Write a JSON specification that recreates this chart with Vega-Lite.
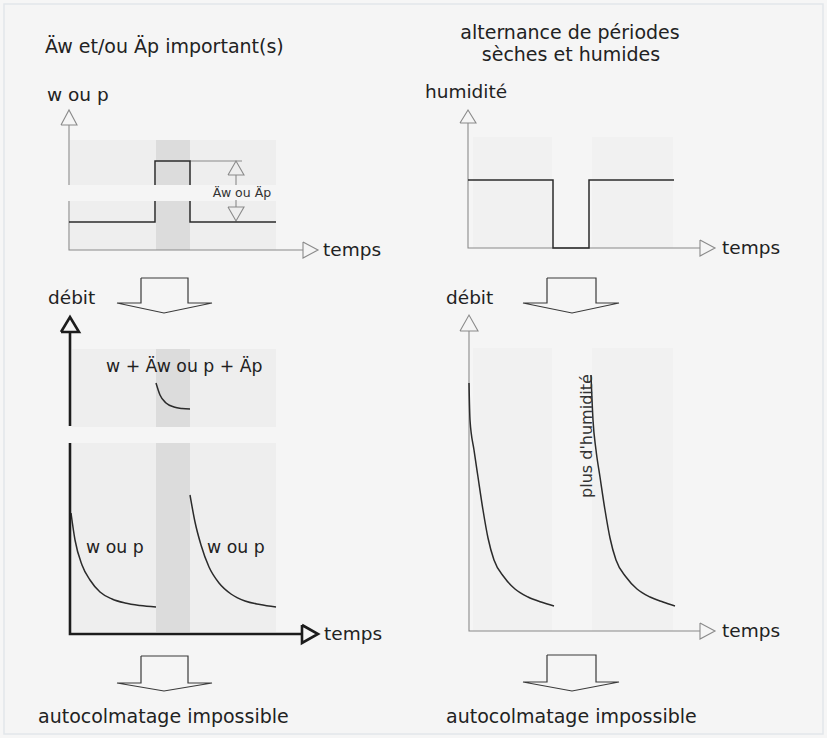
{
  "$schema": "https://vega.github.io/schema/vega-lite/v6.json",
  "width": 827,
  "height": 738,
  "padding": 0,
  "autosize": "none",
  "background": "#f6f6f6",
  "config": {"view": {"stroke": null}},
  "encoding": {
    "x": {"field": "x", "type": "quantitative", "scale": {"domain": [0, 827], "nice": false, "zero": false}, "axis": null},
    "y": {"field": "y", "type": "quantitative", "scale": {"domain": [0, 738], "nice": false, "zero": false, "reverse": true}, "axis": null}
  },
  "layer": [
    {
      "data": {"values": [{"x": 4, "x2": 823, "y": 4, "y2": 734}]},
      "mark": {"type": "rect", "fill": "#f5f5f5", "stroke": "#e2e6ea", "strokeWidth": 1.5},
      "encoding": {"x2": {"field": "x2"}, "y2": {"field": "y2"}}
    },
    {
      "data": {"values": [
        {"k": "box", "x": 70, "x2": 276, "y": 140, "y2": 185},
        {"k": "box", "x": 70, "x2": 276, "y": 201, "y2": 250},
        {"k": "box", "x": 72, "x2": 276, "y": 349, "y2": 427},
        {"k": "box", "x": 72, "x2": 276, "y": 443, "y2": 632},
        {"k": "rbox", "x": 473, "x2": 552, "y": 137, "y2": 248},
        {"k": "rbox", "x": 592, "x2": 673, "y": 137, "y2": 248},
        {"k": "rbox", "x": 473, "x2": 552, "y": 348, "y2": 631},
        {"k": "rbox", "x": 592, "x2": 673, "y": 348, "y2": 631},
        {"k": "band", "x": 156, "x2": 190, "y": 140, "y2": 185},
        {"k": "band", "x": 156, "x2": 190, "y": 201, "y2": 250},
        {"k": "band", "x": 156, "x2": 190, "y": 349, "y2": 427},
        {"k": "band", "x": 156, "x2": 190, "y": 443, "y2": 632}
      ]},
      "mark": {"type": "rect"},
      "encoding": {
        "x2": {"field": "x2"}, "y2": {"field": "y2"},
        "color": {"field": "k", "type": "nominal", "legend": null,
          "scale": {"domain": ["box", "rbox", "band"], "range": ["#eeeeee", "#f1f1f1", "#dcdcdc"]}}
      }
    },
    {
      "data": {"values": [
        {"g": "a", "o": 1, "x": 69, "y": 125}, {"g": "a", "o": 2, "x": 69, "y": 185},
        {"g": "b", "o": 1, "x": 69, "y": 201}, {"g": "b", "o": 2, "x": 69, "y": 250}, {"g": "b", "o": 3, "x": 303, "y": 250},
        {"g": "c", "o": 1, "x": 190, "y": 161}, {"g": "c", "o": 2, "x": 242, "y": 161},
        {"g": "d", "o": 1, "x": 236, "y": 175}, {"g": "d", "o": 2, "x": 236, "y": 185},
        {"g": "e", "o": 1, "x": 236, "y": 200}, {"g": "e", "o": 2, "x": 236, "y": 207},
        {"g": "f", "o": 1, "x": 61, "y": 125}, {"g": "f", "o": 2, "x": 69, "y": 110}, {"g": "f", "o": 3, "x": 77, "y": 125}, {"g": "f", "o": 4, "x": 61, "y": 125},
        {"g": "g", "o": 1, "x": 303, "y": 242}, {"g": "g", "o": 2, "x": 318, "y": 250}, {"g": "g", "o": 3, "x": 303, "y": 258}, {"g": "g", "o": 4, "x": 303, "y": 242},
        {"g": "h", "o": 1, "x": 228, "y": 175}, {"g": "h", "o": 2, "x": 236, "y": 161}, {"g": "h", "o": 3, "x": 244, "y": 175}, {"g": "h", "o": 4, "x": 228, "y": 175},
        {"g": "i", "o": 1, "x": 228, "y": 207}, {"g": "i", "o": 2, "x": 236, "y": 221}, {"g": "i", "o": 3, "x": 244, "y": 207}, {"g": "i", "o": 4, "x": 228, "y": 207},
        {"g": "j", "o": 1, "x": 468, "y": 123}, {"g": "j", "o": 2, "x": 468, "y": 248}, {"g": "j", "o": 3, "x": 700, "y": 248},
        {"g": "k", "o": 1, "x": 460, "y": 123}, {"g": "k", "o": 2, "x": 468, "y": 110}, {"g": "k", "o": 3, "x": 476, "y": 123}, {"g": "k", "o": 4, "x": 460, "y": 123},
        {"g": "l", "o": 1, "x": 700, "y": 240}, {"g": "l", "o": 2, "x": 715, "y": 248}, {"g": "l", "o": 3, "x": 700, "y": 256}, {"g": "l", "o": 4, "x": 700, "y": 240},
        {"g": "m", "o": 1, "x": 469, "y": 331}, {"g": "m", "o": 2, "x": 469, "y": 631}, {"g": "m", "o": 3, "x": 700, "y": 631},
        {"g": "n", "o": 1, "x": 460, "y": 331}, {"g": "n", "o": 2, "x": 469, "y": 315}, {"g": "n", "o": 3, "x": 478, "y": 331}, {"g": "n", "o": 4, "x": 460, "y": 331},
        {"g": "p", "o": 1, "x": 700, "y": 623}, {"g": "p", "o": 2, "x": 715, "y": 631}, {"g": "p", "o": 3, "x": 700, "y": 639}, {"g": "p", "o": 4, "x": 700, "y": 623}
      ]},
      "mark": {"type": "line", "stroke": "#8a8a8a", "strokeWidth": 1.1, "interpolate": "linear"},
      "encoding": {"detail": {"field": "g"}, "order": {"field": "o", "type": "quantitative"}}
    },
    {
      "data": {"values": [
        {"g": "s1", "o": 1, "x": 69, "y": 222}, {"g": "s1", "o": 2, "x": 155, "y": 222}, {"g": "s1", "o": 3, "x": 155, "y": 201},
        {"g": "s2", "o": 1, "x": 155, "y": 185}, {"g": "s2", "o": 2, "x": 155, "y": 161}, {"g": "s2", "o": 3, "x": 190, "y": 161}, {"g": "s2", "o": 4, "x": 190, "y": 185},
        {"g": "s3", "o": 1, "x": 190, "y": 201}, {"g": "s3", "o": 2, "x": 190, "y": 222}, {"g": "s3", "o": 3, "x": 276, "y": 222},
        {"g": "s4", "o": 1, "x": 468, "y": 180}, {"g": "s4", "o": 2, "x": 553, "y": 180}, {"g": "s4", "o": 3, "x": 553, "y": 248}, {"g": "s4", "o": 4, "x": 589, "y": 248}, {"g": "s4", "o": 5, "x": 589, "y": 180}, {"g": "s4", "o": 6, "x": 674, "y": 180},
        {"g": "c0", "o": 1, "x": 156, "y": 383}, {"g": "c0", "o": 2, "x": 160, "y": 395}, {"g": "c0", "o": 3, "x": 166, "y": 403}, {"g": "c0", "o": 4, "x": 174, "y": 407}, {"g": "c0", "o": 5, "x": 182, "y": 408.5}, {"g": "c0", "o": 6, "x": 190, "y": 409},
        {"g": "c1", "o": 1, "x": 71, "y": 513}, {"g": "c1", "o": 2, "x": 75, "y": 540}, {"g": "c1", "o": 3, "x": 82, "y": 565}, {"g": "c1", "o": 4, "x": 90, "y": 580}, {"g": "c1", "o": 5, "x": 100, "y": 592}, {"g": "c1", "o": 6, "x": 112, "y": 599}, {"g": "c1", "o": 7, "x": 125, "y": 603}, {"g": "c1", "o": 8, "x": 140, "y": 605.5}, {"g": "c1", "o": 9, "x": 156, "y": 607},
        {"g": "c2", "o": 1, "x": 190, "y": 495}, {"g": "c2", "o": 2, "x": 195, "y": 522}, {"g": "c2", "o": 3, "x": 201, "y": 545}, {"g": "c2", "o": 4, "x": 209, "y": 567}, {"g": "c2", "o": 5, "x": 219, "y": 583}, {"g": "c2", "o": 6, "x": 231, "y": 594}, {"g": "c2", "o": 7, "x": 245, "y": 601}, {"g": "c2", "o": 8, "x": 260, "y": 604.5}, {"g": "c2", "o": 9, "x": 276, "y": 607},
        {"g": "r1", "o": 1, "x": 469, "y": 383}, {"g": "r1", "o": 2, "x": 470, "y": 420}, {"g": "r1", "o": 3, "x": 474, "y": 450}, {"g": "r1", "o": 4, "x": 478, "y": 477}, {"g": "r1", "o": 5, "x": 483, "y": 510}, {"g": "r1", "o": 6, "x": 488, "y": 538}, {"g": "r1", "o": 7, "x": 494, "y": 560}, {"g": "r1", "o": 8, "x": 504, "y": 577}, {"g": "r1", "o": 9, "x": 515, "y": 589}, {"g": "r1", "o": 10, "x": 528, "y": 597}, {"g": "r1", "o": 11, "x": 541, "y": 602}, {"g": "r1", "o": 12, "x": 554, "y": 606},
        {"g": "r2", "o": 1, "x": 591, "y": 375}, {"g": "r2", "o": 2, "x": 593, "y": 420}, {"g": "r2", "o": 3, "x": 596, "y": 450}, {"g": "r2", "o": 4, "x": 600, "y": 477}, {"g": "r2", "o": 5, "x": 605, "y": 510}, {"g": "r2", "o": 6, "x": 610, "y": 538}, {"g": "r2", "o": 7, "x": 616, "y": 560}, {"g": "r2", "o": 8, "x": 626, "y": 577}, {"g": "r2", "o": 9, "x": 637, "y": 589}, {"g": "r2", "o": 10, "x": 650, "y": 597}, {"g": "r2", "o": 11, "x": 663, "y": 602}, {"g": "r2", "o": 12, "x": 675, "y": 606}
      ]},
      "mark": {"type": "line", "stroke": "#2b2b2b", "strokeWidth": 1.5, "interpolate": "monotone"},
      "encoding": {"detail": {"field": "g"}, "order": {"field": "o", "type": "quantitative"}}
    },
    {
      "data": {"values": [
        {"g": "b1", "o": 1, "x": 70, "y": 332}, {"g": "b1", "o": 2, "x": 70, "y": 426},
        {"g": "b2", "o": 1, "x": 70, "y": 443}, {"g": "b2", "o": 2, "x": 70, "y": 634}, {"g": "b2", "o": 3, "x": 302, "y": 634},
        {"g": "b3", "o": 1, "x": 61, "y": 332}, {"g": "b3", "o": 2, "x": 70, "y": 317}, {"g": "b3", "o": 3, "x": 79, "y": 332}, {"g": "b3", "o": 4, "x": 61, "y": 332},
        {"g": "b4", "o": 1, "x": 302, "y": 625}, {"g": "b4", "o": 2, "x": 318, "y": 634}, {"g": "b4", "o": 3, "x": 302, "y": 643}, {"g": "b4", "o": 4, "x": 302, "y": 625}
      ]},
      "mark": {"type": "line", "stroke": "#1c1c1c", "strokeWidth": 2.6, "strokeJoin": "miter"},
      "encoding": {"detail": {"field": "g"}, "order": {"field": "o", "type": "quantitative"}}
    },
    {
      "data": {"values": [
        {"g": "A1", "o": 1, "x": 141, "y": 278}, {"g": "A1", "o": 2, "x": 188, "y": 278}, {"g": "A1", "o": 3, "x": 188, "y": 303}, {"g": "A1", "o": 4, "x": 212, "y": 303}, {"g": "A1", "o": 5, "x": 164, "y": 313}, {"g": "A1", "o": 6, "x": 117, "y": 303}, {"g": "A1", "o": 7, "x": 141, "y": 303}, {"g": "A1", "o": 8, "x": 141, "y": 278},
        {"g": "A2", "o": 1, "x": 141, "y": 656}, {"g": "A2", "o": 2, "x": 188, "y": 656}, {"g": "A2", "o": 3, "x": 188, "y": 683}, {"g": "A2", "o": 4, "x": 212, "y": 683}, {"g": "A2", "o": 5, "x": 164, "y": 691}, {"g": "A2", "o": 6, "x": 117, "y": 683}, {"g": "A2", "o": 7, "x": 141, "y": 683}, {"g": "A2", "o": 8, "x": 141, "y": 656},
        {"g": "A3", "o": 1, "x": 547, "y": 278}, {"g": "A3", "o": 2, "x": 596, "y": 278}, {"g": "A3", "o": 3, "x": 596, "y": 303}, {"g": "A3", "o": 4, "x": 619, "y": 303}, {"g": "A3", "o": 5, "x": 572, "y": 313}, {"g": "A3", "o": 6, "x": 523, "y": 303}, {"g": "A3", "o": 7, "x": 547, "y": 303}, {"g": "A3", "o": 8, "x": 547, "y": 278},
        {"g": "A4", "o": 1, "x": 547, "y": 655}, {"g": "A4", "o": 2, "x": 596, "y": 655}, {"g": "A4", "o": 3, "x": 596, "y": 682}, {"g": "A4", "o": 4, "x": 619, "y": 682}, {"g": "A4", "o": 5, "x": 572, "y": 691}, {"g": "A4", "o": 6, "x": 523, "y": 682}, {"g": "A4", "o": 7, "x": 547, "y": 682}, {"g": "A4", "o": 8, "x": 547, "y": 655}
      ]},
      "mark": {"type": "line", "stroke": "#3a3a3a", "strokeWidth": 1.2},
      "encoding": {"detail": {"field": "g"}, "order": {"field": "o", "type": "quantitative"}}
    },
    {
      "data": {"values": [
        {"x": 45, "y": 47, "t": "Äw et/ou Äp important(s)"},
        {"x": 38, "y": 717, "t": "autocolmatage impossible"},
        {"x": 446, "y": 717, "t": "autocolmatage impossible"}
      ]},
      "mark": {"type": "text", "align": "left", "baseline": "middle", "font": "DejaVu Sans", "fontSize": 19, "fill": "#222222"},
      "encoding": {"text": {"field": "t"}}
    },
    {
      "data": {"values": [
        {"x": 570, "y": 33, "t": "alternance de périodes"},
        {"x": 571, "y": 55, "t": "sèches et humides"}
      ]},
      "mark": {"type": "text", "align": "center", "baseline": "middle", "font": "DejaVu Sans", "fontSize": 19, "fill": "#222222"},
      "encoding": {"text": {"field": "t"}}
    },
    {
      "data": {"values": [
        {"x": 47, "y": 95, "t": "w ou p"},
        {"x": 425, "y": 92, "t": "humidité"},
        {"x": 48, "y": 298, "t": "débit"},
        {"x": 446, "y": 298, "t": "débit"},
        {"x": 323, "y": 250, "t": "temps"},
        {"x": 722, "y": 248, "t": "temps"},
        {"x": 324, "y": 634, "t": "temps"},
        {"x": 722, "y": 631, "t": "temps"}
      ]},
      "mark": {"type": "text", "align": "left", "baseline": "middle", "font": "DejaVu Sans", "fontSize": 18.5, "fill": "#222222"},
      "encoding": {"text": {"field": "t"}}
    },
    {
      "data": {"values": [
        {"x": 106, "y": 367, "t": "w + Äw ou p + Äp"},
        {"x": 86, "y": 548, "t": "w ou p"},
        {"x": 207, "y": 548, "t": "w ou p"}
      ]},
      "mark": {"type": "text", "align": "left", "baseline": "middle", "font": "DejaVu Sans", "fontSize": 17.3, "fill": "#222222"},
      "encoding": {"text": {"field": "t"}}
    },
    {
      "data": {"values": [{"x": 242, "y": 193, "t": "Äw ou Äp"}]},
      "mark": {"type": "text", "align": "center", "baseline": "middle", "font": "DejaVu Sans", "fontSize": 12.5, "fill": "#333333"},
      "encoding": {"text": {"field": "t"}}
    },
    {
      "data": {"values": [{"x": 587, "y": 436, "t": "plus d'humidité"}]},
      "mark": {"type": "text", "align": "center", "baseline": "middle", "angle": 270, "font": "DejaVu Sans", "fontSize": 16, "fill": "#333333"},
      "encoding": {"text": {"field": "t"}}
    }
  ]
}
